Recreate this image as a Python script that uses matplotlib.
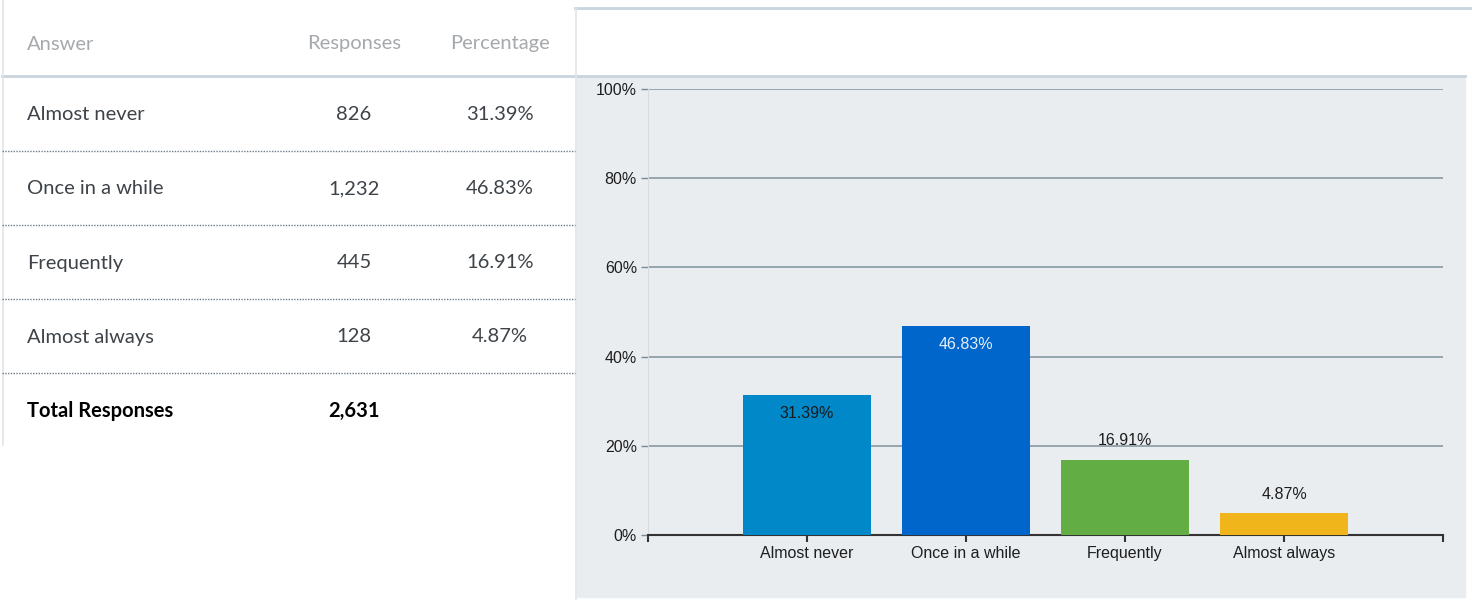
import matplotlib.pyplot as plt
import numpy as np

# data
answers = ["Almost never", "Once in a while", "Frequently", "Almost always"]
responses = ["826", "1,232", "445", "128"]
percent_text = ["31.39%", "46.83%", "16.91%", "4.87%"]
percent = [31.39, 46.83, 16.91, 4.87]
total_label = "Total Responses"
total_value = "2,631"
headers = ["Answer", "Responses", "Percentage"]
yticks = [0, 20, 40, 60, 80, 100]

bar_colors = ["#0088c8", "#0066cc", "#63ad45", "#f1b51c"]

W, H = 1472, 600
fig = plt.figure(figsize=(W / 100, H / 100), dpi=100)
fig.patch.set_facecolor("white")

# background axes in pixel coords for the table
bg = fig.add_axes([0, 0, 1, 1])
bg.set_xlim(0, W)
bg.set_ylim(H, 0)
bg.axis("off")

line_c = "#c9d4dd"
bg.add_patch(plt.Rectangle((577, 76), 888, 521, color="#e9edf0", zorder=0))
bg.plot([575, W], [8, 8], color=line_c, lw=2)
bg.plot([2, 1465], [75.5, 75.5], color=line_c, lw=2)
bg.plot([2.5, 2.5], [0, 445], color="#dfe5ea", lw=1.2)
bg.plot([575.5, 575.5], [8, 600], color="#dfe5ea", lw=1.2)

tfont = "Lato"
fs = 14.5
dy = 2
col_x = [27, 354, 500]
bg.text(col_x[0], 42 + dy, headers[0], ha="left", va="center", fontsize=fs,
        color="#a5a9ad", family=tfont)
bg.text(col_x[1], 42 + dy, headers[1], ha="center", va="center", fontsize=fs,
        color="#a5a9ad", family=tfont)
bg.text(col_x[2], 42 + dy, headers[2], ha="center", va="center", fontsize=fs,
        color="#a5a9ad", family=tfont)

row_y = [113, 187, 261, 335]
for i in range(len(answers)):
    y = row_y[i]
    bg.text(col_x[0], y + dy, answers[i], ha="left", va="center", fontsize=fs,
            color="#3d4348", family=tfont)
    bg.text(col_x[1], y + dy, responses[i], ha="center", va="center",
            fontsize=fs, color="#3d4348", family=tfont)
    bg.text(col_x[2], y + dy, percent_text[i], ha="center", va="center",
            fontsize=fs, color="#3d4348", family=tfont)
    bg.plot([2, 575], [y + 37.5, y + 37.5], color="#6f7b86", lw=1,
            linestyle=(0, (1, 1)))

bg.text(col_x[0], 409 + dy, total_label, ha="left", va="center", fontsize=fs,
        color="black", family=tfont, fontweight="bold")
bg.text(col_x[1], 409 + dy, total_value, ha="center", va="center", fontsize=fs,
        color="black", family=tfont, fontweight="bold")

# bar chart
ax = fig.add_axes([648 / W, (H - 535) / H, (1443 - 648) / W, (535 - 89) / H])
ax.set_facecolor("none")
x = np.arange(len(answers))
bars = ax.bar(x, percent, width=0.8, color=bar_colors, zorder=3)
ax.set_xlim(-1, 4)
ax.set_ylim(0, 100)
ax.set_yticks(yticks)
ax.set_yticklabels([f"{v}%" for v in yticks])
ax.set_xticks(list(x) + [-1, 4])
ax.set_xticklabels(answers + ["", ""])
ax.grid(axis="y", color="#8898a4", lw=1.2, zorder=1)
ax.set_axisbelow(True)

cfont = "Liberation Sans"
for lab in ax.get_xticklabels() + ax.get_yticklabels():
    lab.set_family(cfont)
    lab.set_fontsize(11.5)
    lab.set_color("#1e1e1e")
ax.tick_params(axis="y", length=5, width=1, color="#7a8a96", pad=3)
ax.tick_params(axis="x", length=5, width=1.5, color="#333333", pad=3)

for s in ["top", "right"]:
    ax.spines[s].set_visible(False)
ax.spines["left"].set_color("#d3dbe3")
ax.spines["bottom"].set_color("#333333")
ax.spines["bottom"].set_linewidth(1.5)

for i, b in enumerate(bars):
    v = percent[i]
    if v > 25:
        c = "#1a1a1a" if i == 0 else "#e6eef8"
        ax.text(b.get_x() + b.get_width() / 2, v - 2.4, percent_text[i],
                ha="center", va="top", fontsize=11.5, color=c, family=cfont,
                zorder=4)
    else:
        ax.text(b.get_x() + b.get_width() / 2, v + 2.5, percent_text[i],
                ha="center", va="bottom", fontsize=11.5, color="#1e1e1e",
                family=cfont, zorder=4)

fig.savefig("out.png", dpi=100)
